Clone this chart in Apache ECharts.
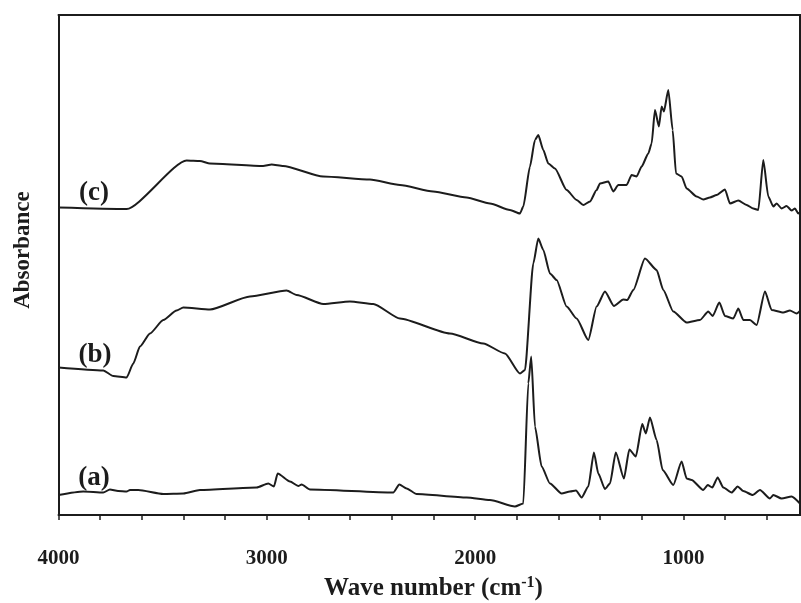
<!DOCTYPE html>
<html>
<head>
<meta charset="utf-8">
<script src="https://cdn.jsdelivr.net/npm/echarts@6/dist/echarts.min.js"></script>
<style>
html,body{margin:0;padding:0;background:#fff;}
#chart{width:801px;height:603px;}
</style>
</head>
<body>
<div id="chart"></div>
<script>
// Wavenumbers (cm-1) and absorbance (arbitrary, offset) for each spectrum
const wnA = [4000,3881,3785,3753,3714,3673,3657,3617,3497,3401,3321,3049,2993,2966,2948,2889,2849,2833,2793,2393,2364,2329,2281,2041,1929,1809,1769,1745,1731,1713,1681,1641,1585,1545,1516,1489,1457,1430,1409,1377,1353,1325,1286,1260,1229,1198,1181,1161,1129,1100,1049,1009,985,961,905,884,862,836,809,769,740,713,668,633,585,569,529,481,441];
const absA = [4,4.7,4.5,5.1,4.8,4.7,5,5,4.2,4.3,5,5.5,6.3,5.7,8.3,6.7,5.8,6.1,5.1,4.5,6.1,5.3,4.2,3.5,3,1.7,2.3,26.3,31.7,17.7,9.7,6.3,4.3,4.7,4.9,3.5,5.7,12.5,8.3,5.2,6.3,12.5,7.3,13.1,11.7,18.2,16.3,19.5,15,9,6,10.7,7.3,7,5,6,5.5,7.5,5.5,4.5,5.7,4.8,4,5,3.3,4,3.3,3.7,2.3];

const wnB = [4000,3785,3737,3673,3641,3609,3561,3497,3433,3401,3273,3081,2905,2857,2729,2601,2489,2361,2121,1961,1857,1785,1761,1721,1697,1673,1641,1609,1561,1513,1457,1417,1377,1334,1289,1270,1241,1185,1129,1097,1049,985,921,881,860,828,801,761,737,713,681,649,609,577,521,489,457,441];
const absB = [29.5,28.9,27.8,27.5,30.3,33.7,36.3,39,40.9,41.5,41.1,43.7,44.9,44,42.2,42.7,42.2,39.3,36.3,34.3,32.3,28.3,29,50.3,55.3,53,48.3,47,41.7,39.3,35,41.7,44.7,41.8,43.1,43,45,51.3,49,45,40.7,38.5,39,40.7,39.8,42.5,39.8,39.3,41.3,39,39,38,44.7,41,40.5,40.9,40.3,40.8];

const wnC = [4000,3673,3385,3321,3273,3018,2977,2922,2730,2505,2361,2202,2041,1929,1833,1785,1769,1737,1713,1697,1673,1649,1617,1561,1513,1481,1449,1417,1401,1361,1337,1313,1273,1249,1225,1201,1169,1153,1137,1118,1105,1094,1073,1052,1036,1009,985,937,905,873,841,801,777,737,697,665,641,617,593,569,553,529,505,481,465,449,437];
const absC = [61.5,61.2,70.9,70.8,70.3,69.8,70.1,69.8,67.7,67.1,66,64.7,63.5,62.3,61,60.3,61.7,69.7,75,76,73,70.3,69.3,65,63,62,62.7,65,66.3,66.7,64.7,66,66,68,67.7,69.7,72.3,74.3,81,77.7,81.7,80.7,85,77,68.3,67.7,65.3,63.7,63.1,63.5,64,65.1,62.3,62.9,62,61.3,61,71,63.7,61.7,62.3,61.3,61.8,60.9,61.3,60.3,60.8];

const xMin = 400, xMax = 4000, xStep = 200;
const tickLabels = [4000, 3000, 2000, 1000];
const spectrumNames = ['(a)', '(b)', '(c)'];
const xTitle = 'Wave number (cm';
const yTitle = 'Absorbance';

function zip(xs, ys){ return xs.map((x,i)=>[x, ys[i]]); }

const serif = '"Liberation Serif","Times New Roman",serif';
const ink = '#1c1c1c';

const chart = echarts.init(document.getElementById('chart'), null, {renderer:'canvas'});

const lineSeries = (name, d) => ({
  name: name, type: 'line', data: d, showSymbol: false, symbol: 'none',
  smooth: 0.2, smoothMonotone: 'x',
  lineStyle: {color: ink, width: 2}, itemStyle: {color: ink},
  animation: false, clip: true
});

const sC = lineSeries(spectrumNames[2], zip(wnC, absC));
sC.markLine = {
  silent: true, symbol: ['none','none'], label: {show:false},
  lineStyle: {color: ink, width: 2, type: 'solid'},
  data: [{xAxis: 441}], animation: false
};

chart.setOption({
  animation: false,
  backgroundColor: '#fff',
  grid: {left: 58.5, top: 15, width: 750, height: 500, containLabel: false, outerBoundsMode: 'none'},
  xAxis: [{
    type: 'value', min: xMin, max: xMax, interval: xStep, inverse: true,
    position: 'bottom', offset: 12,
    axisLine: {show: true, lineStyle: {color: ink, width: 2}},
    axisTick: {show: true, length: 5, lineStyle: {color: ink, width: 1.5}},
    splitLine: {show: false},
    axisLabel: {
      margin: 21, color: ink, fontFamily: serif, fontWeight: 'bold', fontSize: 21,
      formatter: v => tickLabels.indexOf(v) >= 0 ? String(v) : ''
    },
    name: '{a|' + xTitle + '}{s|-1}{a|)}',
    nameLocation: 'middle', nameGap: 48,
    nameTextStyle: {
      rich: {
        a: {fontFamily: serif, fontWeight: 'bold', fontSize: 25, color: ink, lineHeight: 28},
        s: {fontFamily: serif, fontWeight: 'bold', fontSize: 16, color: ink, lineHeight: 15, verticalAlign: 'top'}
      }
    }
  },{
    type: 'value', min: xMin, max: xMax, inverse: true, position: 'top',
    axisLine: {show: true, lineStyle: {color: ink, width: 2}},
    axisTick: {show: false}, axisLabel: {show: false}, splitLine: {show: false}
  }],
  yAxis: [{
    type: 'value', min: 0, max: 100,
    axisLine: {show: true, lineStyle: {color: ink, width: 2}},
    axisTick: {show: false}, axisLabel: {show: false}, splitLine: {show: false}
  }],
  graphic: [
    {type: 'text', x: 23, y: 250, rotation: Math.PI/2, style: {text: yTitle, fill: ink, font: 'bold 23px ' + serif, textAlign: 'center', textVerticalAlign: 'middle'}},
    {type: 'text', x: 94, y: 193, style: {text: spectrumNames[2], fill: ink, font: 'bold 27px ' + serif, textAlign: 'center', textVerticalAlign: 'middle'}},
    {type: 'text', x: 95, y: 355, style: {text: spectrumNames[1], fill: ink, font: 'bold 27px ' + serif, textAlign: 'center', textVerticalAlign: 'middle'}},
    {type: 'text', x: 94, y: 478, style: {text: spectrumNames[0], fill: ink, font: 'bold 27px ' + serif, textAlign: 'center', textVerticalAlign: 'middle'}}
  ],
  series: [
    lineSeries(spectrumNames[0], zip(wnA, absA)),
    lineSeries(spectrumNames[1], zip(wnB, absB)),
    sC
  ]
});
</script>
</body>
</html>
